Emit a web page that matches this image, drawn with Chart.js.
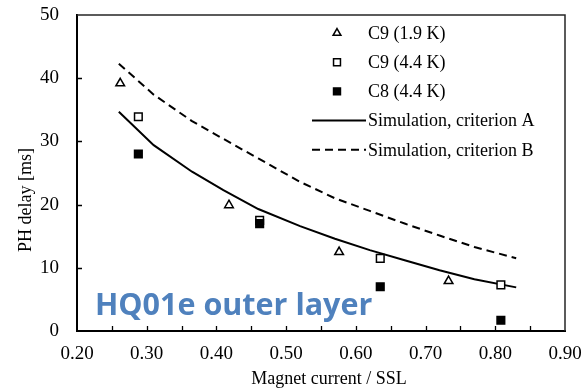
<!DOCTYPE html>
<html lang="en">
<head>
    <meta charset="UTF-8">
    <title>PH delay vs magnet current</title>
    <script src="https://cdn.jsdelivr.net/npm/chart.js"></script>
    <style>
        body { margin: 0; background: #fff; }
    </style>
</head>
<body>
    <canvas id="phChart" width="583" height="389"></canvas>
    <script>
        // measured data
        var c9_19K_x = [0.262, 0.418, 0.576, 0.733];
        var c9_19K_y = [39.2, 19.9, 12.5, 7.9];
        var c9_44K_x = [0.288, 0.462, 0.635, 0.808];
        var c9_44K_y = [33.9, 17.5, 11.5, 7.3];
        var c8_44K_x = [0.288, 0.462, 0.635, 0.808];
        var c8_44K_y = [28.0, 17.0, 7.0, 1.7];

        // simulation curves
        var simX = [0.26, 0.31, 0.365, 0.41, 0.46, 0.52, 0.57, 0.62, 0.67, 0.72, 0.77, 0.83];
        var simA = [34.7, 29.4, 25.2, 22.3, 19.3, 16.6, 14.6, 12.8, 11.2, 9.6, 8.2, 6.9];
        var simB = [42.3, 37.4, 33.2, 30.4, 27.3, 23.6, 21.0, 19.0, 17.0, 15.1, 13.3, 11.5];

        var xTicks = [0.2, 0.3, 0.4, 0.5, 0.6, 0.7, 0.8, 0.9];
        var yTicks = [0, 10, 20, 30, 40, 50];

        function pts(xs, ys) {
            return xs.map(function (x, i) { return { x: x, y: ys[i] }; });
        }

        var serif = '"Liberation Serif", "Times New Roman", serif';

        // frame, inside tick marks, axis titles and the annotation text
        var decorPlugin = {
            id: 'decor',
            afterDraw: function (chart) {
                var ctx = chart.ctx;
                var a = chart.chartArea;
                var xs = chart.scales.x, ys = chart.scales.y;
                ctx.save();
                // top and right frame
                ctx.strokeStyle = '#262626';
                ctx.lineWidth = 1.5;
                ctx.beginPath();
                ctx.moveTo(a.left, a.top);
                ctx.lineTo(a.right, a.top);
                ctx.lineTo(a.right, a.bottom);
                ctx.stroke();
                // inside tick marks
                ctx.strokeStyle = '#000';
                ctx.lineWidth = 1.3;
                ctx.beginPath();
                for (var v = 0.25; v < 0.9; v += 0.05) {
                    var px = Math.round(xs.getPixelForValue(v)) + 0.5;
                    ctx.moveTo(px, a.bottom);
                    ctx.lineTo(px, a.bottom - 5);
                }
                yTicks.forEach(function (t) {
                    if (t === 0 || t === 50) return;
                    var py = Math.round(ys.getPixelForValue(t)) + 0.5;
                    ctx.moveTo(a.left, py);
                    ctx.lineTo(a.left + 5, py);
                });
                ctx.stroke();
                // axis titles
                ctx.fillStyle = '#000';
                ctx.font = '18px ' + serif;
                ctx.textAlign = 'center';
                ctx.textBaseline = 'alphabetic';
                ctx.fillText('Magnet current / SSL', 329, 384);
                ctx.save();
                ctx.translate(31, 200);
                ctx.rotate(-Math.PI / 2);
                ctx.fillText('PH delay [ms]', 0, 0);
                ctx.restore();
                // annotation
                ctx.fillStyle = '#4F81BD';
                ctx.font = 'bold 30.5px "Open Sans", Lato, sans-serif';
                ctx.textAlign = 'left';
                ctx.fillText('HQ01e outer layer', 95, 315);
                ctx.restore();
            }
        };

        // legend inside the plot, top right
        var legendPlugin = {
            id: 'innerLegend',
            afterDraw: function (chart) {
                var ctx = chart.ctx;
                ctx.save();
                ctx.font = '18px ' + serif;
                ctx.textBaseline = 'middle';
                ctx.textAlign = 'left';
                chart.data.datasets.forEach(function (ds, i) {
                    var y = 33 + i * 29.2;
                    if (ds.showLine) {
                        ctx.strokeStyle = ds.borderColor;
                        ctx.lineWidth = ds.borderWidth;
                        ctx.setLineDash(ds.borderDash || []);
                        ctx.beginPath();
                        ctx.moveTo(312, y);
                        ctx.lineTo(366, y);
                        ctx.stroke();
                        ctx.setLineDash([]);
                    } else {
                        ctx.fillStyle = ds.pointBackgroundColor;
                        ctx.strokeStyle = ds.pointBorderColor;
                        ctx.lineWidth = ds.pointBorderWidth;
                        Chart.helpers.drawPoint(ctx, { pointStyle: ds.pointStyle, radius: ds.pointRadius - 0.5, rotation: 0, borderWidth: ds.pointBorderWidth }, 337, y);
                    }
                    ctx.fillStyle = '#000';
                    ctx.fillText(ds.label, 368, y + 1);
                });
                ctx.restore();
            }
        };

        var ctx = document.getElementById('phChart').getContext('2d');
        var chart = new Chart(ctx, {
            type: 'scatter',
            data: {
                datasets: [
                    {
                        label: 'C9 (1.9 K)',
                        data: pts(c9_19K_x, c9_19K_y),
                        pointStyle: 'triangle',
                        pointRadius: 5,
                        pointBackgroundColor: '#fff',
                        pointBorderColor: '#000',
                        pointBorderWidth: 1.5,
                        order: 1
                    },
                    {
                        label: 'C9 (4.4 K)',
                        data: pts(c9_44K_x, c9_44K_y),
                        pointStyle: 'rect',
                        pointRadius: 5.4,
                        pointBackgroundColor: '#fff',
                        pointBorderColor: '#000',
                        pointBorderWidth: 1.5,
                        order: 1
                    },
                    {
                        label: 'C8 (4.4 K)',
                        data: pts(c8_44K_x, c8_44K_y),
                        pointStyle: 'rect',
                        pointRadius: 5.4,
                        pointBackgroundColor: '#000',
                        pointBorderColor: '#000',
                        pointBorderWidth: 1.5,
                        order: 0
                    },
                    {
                        label: 'Simulation, criterion A',
                        data: pts(simX, simA),
                        showLine: true,
                        borderColor: '#000',
                        borderWidth: 2,
                        pointRadius: 0,
                        tension: 0,
                        order: 5
                    },
                    {
                        label: 'Simulation, criterion B',
                        data: pts(simX, simB),
                        showLine: true,
                        borderColor: '#000',
                        borderWidth: 2,
                        borderDash: [8, 5],
                        pointRadius: 0,
                        tension: 0,
                        order: 5
                    }
                ]
            },
            options: {
                responsive: false,
                animation: false,
                layout: { padding: 0 },
                plugins: {
                    legend: { display: false },
                    tooltip: { enabled: false }
                },
                scales: {
                    x: {
                        type: 'linear',
                        min: 0.2,
                        max: 0.9,
                        afterBuildTicks: function (s) { s.ticks = xTicks.map(function (v) { return { value: v }; }); },
                        afterFit: function (s) { s.height = 58; s.paddingLeft = 0; s.paddingRight = 18; },
                        grid: { display: false, drawTicks: false },
                        border: { display: true, color: '#000', width: 2 },
                        ticks: {
                            color: '#000',
                            padding: 12,
                            maxRotation: 0,
                            font: { family: serif, size: 19 },
                            callback: function (v) { return Number(v).toFixed(2); }
                        }
                    },
                    y: {
                        type: 'linear',
                        min: 0,
                        max: 50,
                        afterBuildTicks: function (s) { s.ticks = yTicks.map(function (v) { return { value: v }; }); },
                        afterFit: function (s) { s.width = 77; s.paddingTop = 15; s.paddingBottom = 0; },
                        grid: { display: false, drawTicks: false },
                        border: { display: true, color: '#000', width: 2 },
                        ticks: {
                            color: '#000',
                            padding: 18,
                            font: { family: serif, size: 19 }
                        }
                    }
                }
            },
            plugins: [decorPlugin, legendPlugin]
        });
    </script>
</body>
</html>
